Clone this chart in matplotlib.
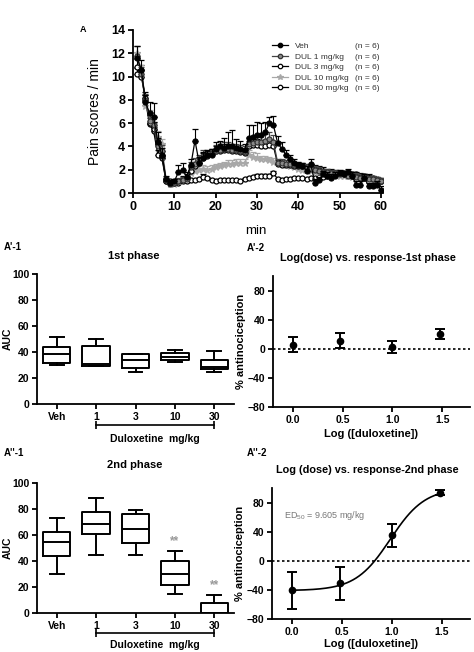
import numpy as np
import matplotlib
matplotlib.use("Agg")
import matplotlib.pyplot as plt
import matplotlib.transforms as mtransforms
from matplotlib.lines import Line2D

plt.rcParams['font.family'] = ['Liberation Sans', 'DejaVu Sans']
plt.rcParams['mathtext.fontset'] = 'custom'
plt.rcParams['mathtext.rm'] = 'Liberation Sans'

# ---------------- data ----------------
minutes = list(range(1, 61))
series_labels = ["Veh", "DUL 1 mg/kg", "DUL 3 mg/kg", "DUL 10 mg/kg", "DUL 30 mg/kg"]
n_label = "(n = 6)"

veh = [11.6, 10.6, 7.8, 6.9, 6.5, 4.4, 3.3, 1.2, 0.9, 1.0,
       1.8, 2.0, 1.4, 2.4, 4.5, 2.6, 3.0, 3.3, 3.3, 3.8,
       4.0, 3.9, 4.0, 4.0, 3.9, 3.8, 3.7, 4.7, 4.8, 5.0,
       5.0, 5.2, 6.0, 5.8, 4.3, 3.8, 3.3, 2.9, 2.6, 2.4,
       2.3, 1.9, 2.5, 0.9, 1.1, 1.6, 1.5, 1.3, 1.5, 1.7,
       1.6, 1.8, 1.5, 0.7, 0.7, 1.3, 0.6, 0.6, 0.7, 0.3]
veh_err = [1.0, 0.8, 0.6, 0.9, 1.2, 0.8, 0.6, 0.3, 0.2, 0.2,
           0.6, 0.6, 0.4, 0.5, 1.0, 0.5, 0.5, 0.4, 0.5, 0.6,
           0.5, 0.8, 1.2, 1.4, 0.7, 0.7, 0.5, 1.1, 1.0, 1.1,
           1.0, 0.9, 0.5, 0.8, 0.6, 0.6, 0.4, 0.4, 0.3, 0.3,
           0.3, 0.4, 0.4, 0.3, 0.3, 0.3, 0.3, 0.3, 0.3, 0.3,
           0.3, 0.3, 0.3, 0.3, 0.3, 0.3, 0.3, 0.3, 0.3, 0.3]
dul1 = [11.8, 10.2, 8.0, 6.2, 5.8, 4.0, 3.6, 1.1, 0.8, 0.9,
        1.0, 1.1, 1.2, 2.2, 2.5, 2.8, 3.2, 3.3, 3.4, 3.6,
        3.7, 3.8, 3.8, 3.7, 3.7, 3.6, 3.5, 4.2, 4.3, 4.4,
        4.4, 4.5, 4.6, 4.4, 2.6, 2.6, 2.5, 2.5, 2.4, 2.4,
        2.3, 2.2, 2.1, 2.0, 1.9, 1.8, 1.8, 1.7, 1.7, 1.6,
        1.6, 1.5, 1.5, 1.4, 1.3, 1.3, 1.2, 1.2, 1.1, 1.0]
dul1_err = [0.8, 0.6, 0.5, 0.8, 0.7, 0.6, 0.5, 0.2, 0.2, 0.2,
            0.3, 0.3, 0.3, 0.5, 0.5, 0.5, 0.5, 0.4, 0.4, 0.5,
            0.5, 0.6, 0.6, 0.5, 0.5, 0.5, 0.5, 0.6, 0.6, 0.6,
            0.6, 0.6, 0.6, 0.6, 0.3, 0.3, 0.3, 0.3, 0.3, 0.3,
            0.3, 0.3, 0.3, 0.3, 0.3, 0.3, 0.3, 0.3, 0.3, 0.3,
            0.3, 0.3, 0.3, 0.3, 0.3, 0.3, 0.3, 0.3, 0.3, 0.3]
dul3 = [10.8, 10.0, 8.2, 6.0, 5.5, 4.2, 3.2, 1.0, 0.9, 0.9,
        1.0, 1.2, 1.3, 1.9, 2.3, 2.6, 3.0, 3.2, 3.4, 3.6,
        3.6, 3.7, 3.7, 3.6, 3.6, 3.5, 3.4, 4.0, 4.1, 4.1,
        4.0, 4.0, 4.1, 4.0, 2.5, 2.4, 2.4, 2.4, 2.3, 2.3,
        2.3, 2.2, 2.2, 2.1, 2.0, 1.9, 1.8, 1.8, 1.7, 1.7,
        1.6, 1.6, 1.5, 1.5, 1.4, 1.3, 1.3, 1.2, 1.1, 1.0]
dul3_err = [0.7, 0.6, 0.5, 0.7, 0.6, 0.5, 0.4, 0.2, 0.2, 0.2,
            0.2, 0.3, 0.3, 0.4, 0.4, 0.4, 0.4, 0.4, 0.4, 0.4,
            0.4, 0.5, 0.5, 0.4, 0.4, 0.4, 0.4, 0.5, 0.5, 0.5,
            0.5, 0.5, 0.5, 0.5, 0.3, 0.3, 0.3, 0.3, 0.3, 0.3,
            0.3, 0.3, 0.3, 0.3, 0.3, 0.3, 0.3, 0.3, 0.3, 0.3,
            0.3, 0.3, 0.3, 0.3, 0.3, 0.3, 0.3, 0.3, 0.3, 0.3]
dul10 = [12.0, 10.5, 7.5, 6.5, 6.0, 4.8, 4.2, 1.2, 0.8, 0.8,
         1.0, 1.2, 1.4, 1.7, 1.9, 2.0, 2.1, 2.0, 2.1, 2.2,
         2.3, 2.4, 2.5, 2.5, 2.6, 2.6, 2.6, 3.3, 3.1, 3.0,
         2.9, 2.9, 2.8, 2.7, 2.6, 2.5, 2.4, 2.3, 2.2, 2.1,
         2.0, 2.0, 1.9, 1.8, 1.8, 1.7, 1.7, 1.6, 1.6, 1.5,
         1.5, 1.5, 1.4, 1.4, 1.3, 1.3, 1.3, 1.2, 1.2, 1.1]
dul10_err = [0.6, 0.5, 0.5, 0.6, 0.6, 0.5, 0.4, 0.2, 0.2, 0.2,
             0.2, 0.2, 0.2, 0.3, 0.3, 0.3, 0.3, 0.3, 0.3, 0.3,
             0.3, 0.3, 0.3, 0.3, 0.3, 0.3, 0.3, 0.4, 0.4, 0.4,
             0.3, 0.3, 0.3, 0.3, 0.3, 0.3, 0.3, 0.3, 0.3, 0.3,
             0.2, 0.2, 0.2, 0.2, 0.2, 0.2, 0.2, 0.2, 0.2, 0.2,
             0.2, 0.2, 0.2, 0.2, 0.2, 0.2, 0.2, 0.2, 0.2, 0.2]
dul30 = [10.2, 10.6, 8.0, 5.9, 5.3, 3.3, 3.0, 1.0, 1.0, 0.9,
         0.9, 1.0, 1.0, 1.1, 1.1, 1.2, 1.4, 1.3, 1.1, 1.0,
         1.1, 1.1, 1.1, 1.1, 1.1, 1.0, 1.2, 1.3, 1.4, 1.5,
         1.5, 1.5, 1.5, 1.7, 1.2, 1.1, 1.2, 1.2, 1.3, 1.3,
         1.3, 1.2, 1.3, 1.3, 1.4, 1.4, 1.5, 1.6, 1.6, 1.7,
         1.7, 1.7, 1.6, 1.6, 1.5, 1.5, 1.4, 1.3, 1.2, 1.0]
dul30_err = [0.5, 0.4, 0.4, 0.5, 0.4, 0.4, 0.3, 0.1, 0.1, 0.1,
             0.1, 0.1, 0.1, 0.1, 0.1, 0.1, 0.2, 0.1, 0.1, 0.1,
             0.1, 0.1, 0.1, 0.1, 0.1, 0.1, 0.1, 0.1, 0.1, 0.1,
             0.1, 0.1, 0.1, 0.2, 0.1, 0.1, 0.1, 0.1, 0.1, 0.1,
             0.1, 0.1, 0.1, 0.1, 0.1, 0.1, 0.1, 0.1, 0.1, 0.1,
             0.1, 0.1, 0.1, 0.1, 0.1, 0.1, 0.1, 0.1, 0.1, 0.1]

groups = ["Veh", "1", "3", "10", "30"]
ph1_whislo = [30.2, 29.0, 24.6, 32.3, 24.6]
ph1_q1 = [31.8, 29.5, 27.4, 33.8, 26.7]
ph1_med = [38.5, 30.5, 33.8, 36.4, 28.7]
ph1_q3 = [43.9, 44.3, 38.2, 39.0, 33.8]
ph1_whishi = [51.6, 50.0, 38.4, 41.5, 40.6]

ph2_whislo = [29.7, 44.6, 44.6, 14.9, 0.0]
ph2_q1 = [43.6, 60.5, 53.8, 21.5, 0.0]
ph2_med = [55.0, 68.7, 64.6, 30.3, 0.0]
ph2_q3 = [62.0, 77.4, 76.2, 39.7, 7.7]
ph2_whishi = [73.0, 88.5, 79.5, 47.4, 13.6]
ph2_sig = ["", "", "", "**", "**"]

log_dose = [0.0, 0.477, 1.0, 1.477]
ph1_antinoc = [5.5, 11.0, 2.2, 20.5]
ph1_antinoc_sem = [10.0, 10.3, 8.5, 6.5]
ph2_antinoc = [-40.8, -31.2, 35.1, 93.6]
ph2_antinoc_sem = [25.2, 23.3, 15.7, 3.4]
fit_bottom, fit_top, fit_ed50, fit_hill = -41.0, 100.0, 9.605, 2.5

# ---------------- figure ----------------
W, H = 474, 652
fig = plt.figure(figsize=(W / 100, H / 100), dpi=100)


def ax_px(left, top, right, bottom):
    return fig.add_axes([left / W, 1 - bottom / H, (right - left) / W, (bottom - top) / H])


def ftext(x, y, s, **kw):
    kw.setdefault('ha', 'left')
    kw.setdefault('va', 'center')
    return fig.text(x / W, 1 - y / H, s, **kw)


def style(ax, lw=1.3, fs=7.5):
    for sp in ['top', 'right']:
        ax.spines[sp].set_visible(False)
    for sp in ['left', 'bottom']:
        ax.spines[sp].set_linewidth(lw)
    ax.tick_params(width=lw, length=3.5, labelsize=fs, pad=2)
    for lab in ax.get_xticklabels() + ax.get_yticklabels():
        lab.set_fontweight('bold')


# ----- Panel A -----
axA = ax_px(133, 30, 383, 193)
styles = [
    dict(color='black', marker='o', mfc='black', mec='black'),
    dict(color='#444444', marker='o', mfc='#8a8a8a', mec='#333333'),
    dict(color='black', marker='o', mfc='white', mec='black'),
    dict(color='#a8a8a8', marker='*', mfc='#a8a8a8', mec='#a8a8a8'),
    dict(color='black', marker='o', mfc='white', mec='black'),
]
all_vals = [veh, dul1, dul3, dul10, dul30]
all_errs = [veh_err, dul1_err, dul3_err, dul10_err, dul30_err]
for k in range(4, -1, -1):
    st = styles[k]
    axA.errorbar(minutes, all_vals[k], yerr=[np.zeros(len(minutes)), all_errs[k]],
                 color=st['color'], ecolor=st['color'], elinewidth=0.8, capsize=2,
                 capthick=0.8, lw=0.9, marker=st['marker'], ms=3.6 if st['marker'] == 'o' else 4.5,
                 mfc=st['mfc'], mec=st['mec'], mew=0.9, zorder=3 + (4 - k))
handles = []
for k in range(5):
    st = styles[k]
    handles.append(Line2D([], [], color=st['color'], lw=0.9, marker=st['marker'],
                          ms=3.2 if st['marker'] == 'o' else 4.0, mfc=st['mfc'], mec=st['mec'], mew=0.9))
axA.set_xlim(0, 60.5)
axA.set_ylim(0, 14)
axA.set_xticks(range(0, 61, 10))
axA.set_yticks(range(0, 15, 2))
style(axA, lw=1.3, fs=9)
axA.set_ylabel("Pain scores / min", fontsize=10)
axA.yaxis.set_label_coords(-0.125, 0.5)
axA.set_xlabel("min", fontsize=9.5)
axA.xaxis.set_label_coords(0.49, -0.195)
leg = axA.legend(handles, series_labels, loc='upper left', bbox_to_anchor=(0.555, 0.925),
                 frameon=False, fontsize=6, handlelength=2.0, handletextpad=0.8,
                 labelspacing=0.33, borderaxespad=0, borderpad=0)
for t in leg.get_texts():
    t.set_color('#333333')
fig.canvas.draw()
rend = fig.canvas.get_renderer()
for t in leg.get_texts():
    bb = t.get_window_extent(rend)
    yc = (bb.y0 + bb.y1) / 2
    fig.text(355 / W, yc / H, n_label, fontsize=6, color='#333333', va='center', ha='left')
ftext(80, 30, "A", fontsize=6.5, fontweight='bold')


# ----- box panels -----
def box_panel(ax, whislo, q1, med, q3, whishi, sig=None):
    stats = []
    for i in range(len(groups)):
        stats.append(dict(whislo=whislo[i], q1=q1[i], med=med[i], q3=q3[i], whishi=whishi[i], fliers=[]))
    pos = list(range(len(groups)))
    ax.bxp(stats, positions=pos, widths=0.7, showfliers=False,
           boxprops=dict(linewidth=1.4, color='black'),
           medianprops=dict(linewidth=1.4, color='black'),
           whiskerprops=dict(linewidth=1.4, color='black'),
           capprops=dict(linewidth=1.4, color='black'), capwidths=0.35)
    ax.set_xlim(-0.5, 4.5)
    ax.set_ylim(0, 100)
    ax.set_yticks(range(0, 101, 20))
    ax.set_xticks(pos)
    ax.set_xticklabels(groups)
    style(ax, lw=1.3, fs=7.5)
    ax.set_ylabel("AUC", fontsize=7.5, fontweight='bold')
    ax.yaxis.set_label_coords(-0.125, 0.5)
    if sig:
        for i, s in enumerate(sig):
            if s:
                ax.text(pos[i], whishi[i] + 3, s, ha='center', va='bottom', fontsize=8.5,
                        color='#999999', fontweight='bold')


ax1 = ax_px(37, 274, 234, 404)
box_panel(ax1, ph1_whislo, ph1_q1, ph1_med, ph1_q3, ph1_whishi)
ax2 = ax_px(37, 483, 234, 613)
box_panel(ax2, ph2_whislo, ph2_q1, ph2_med, ph2_q3, ph2_whishi, sig=ph2_sig)

for ax, yb, yt in [(ax1, -0.165, -0.27), (ax2, -0.155, -0.245)]:
    tr = mtransforms.blended_transform_factory(ax.transData, ax.transAxes)
    ax.plot([1, 4], [yb, yb], color='black', lw=1.2, marker='|', ms=6, mew=1.2,
            transform=tr, clip_on=False)
    ax.text(2.5, yt, "Duloxetine  mg/kg", transform=tr, ha='center', va='center',
            fontsize=7.5, fontweight='bold')

ftext(134, 256, "1st phase", ha='center', fontsize=8, fontweight='bold')
ftext(135, 465, "2nd phase", ha='center', fontsize=8, fontweight='bold')
ftext(4, 247, "A'-1", fontsize=7, fontweight='bold')
ftext(4, 453, "A''-1", fontsize=7, fontweight='bold')


# ----- log dose panels -----
def dose_panel(ax, mean, sem, xlab_y):
    ax.axhline(0, color='black', lw=1.2, ls=(0, (1.5, 1.5)), zorder=1)
    ax.errorbar(log_dose, mean, yerr=sem, fmt='o', color='black', ms=4.5,
                elinewidth=1.4, capsize=3.5, capthick=1.4, zorder=3)
    ax.set_xlim(-0.2, 1.78)
    ax.set_ylim(-80, 100)
    ax.set_yticks([-80, -40, 0, 40, 80])
    ax.set_xticks([0.0, 0.5, 1.0, 1.5])
    ax.set_xticklabels(["0.0", "0.5", "1.0", "1.5"])
    style(ax, lw=1.3, fs=7.5)
    ax.set_ylabel("% antinociception", fontsize=8, fontweight='bold')
    ax.yaxis.set_label_coords(-0.137, 0.5)
    ax.set_xlabel("Log ([duloxetine])", fontsize=8, fontweight='bold')
    ax.xaxis.set_label_coords(0.5, xlab_y)


ax3 = ax_px(273, 276, 470, 407)
dose_panel(ax3, ph1_antinoc, ph1_antinoc_sem, -0.17)
ax4 = ax_px(272, 488, 470, 619)
dose_panel(ax4, ph2_antinoc, ph2_antinoc_sem, -0.155)
xx = np.linspace(log_dose[0], 1.5, 200)
yy = fit_bottom + (fit_top - fit_bottom) / (1 + 10 ** ((np.log10(fit_ed50) - xx) * fit_hill))
ax4.plot(xx, yy, color='black', lw=1.2, zorder=2)
ax4.text(-0.08, 62, "ED$_{50}$ = 9.605 mg/kg", fontsize=6.5, color='#777777', va='center')

ftext(368, 258, "Log(dose) vs. response-1st phase", ha='center', fontsize=7.8, fontweight='bold')
ftext(367, 470, "Log (dose) vs. response-2nd phase", ha='center', fontsize=7.8, fontweight='bold')
ftext(247, 248, "A'-2", fontsize=7, fontweight='bold')
ftext(247, 453, "A''-2", fontsize=7, fontweight='bold')

fig.savefig("out.png", dpi=100)
